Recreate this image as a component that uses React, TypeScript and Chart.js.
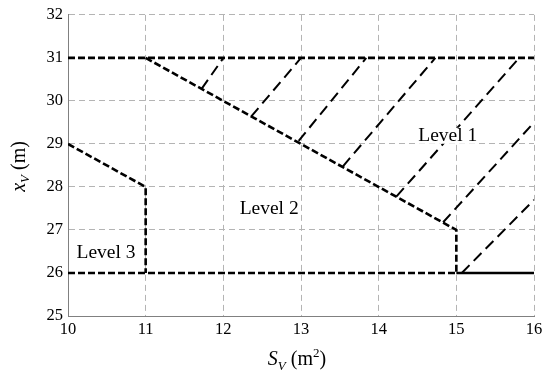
import React, { useEffect, useRef } from "react";
import { Chart, registerables } from "chart.js";

Chart.register(...registerables);

// ---- data (axis units: S_V in m², x_V in m) ----
const xTicks = [10, 11, 12, 13, 14, 15, 16];
const yTicks = [25, 26, 27, 28, 29, 30, 31, 32];

const topBoundary = [[10, 31], [16, 31]];
const level1Boundary = [[11, 31], [15, 27], [15, 26]];
const level2Boundary = [[10, 29], [11, 28], [11, 26]];
const bottomDashed = [[10, 26], [15, 26]];
const bottomSolid = [[15, 26], [16, 26]];

const hatchStarts = [
  [11.72, 30.28], [12.36, 29.64], [12.97, 29.07], [13.54, 28.48],
  [14.23, 27.78], [14.83, 27.18], [15.07, 26.0],
];
const hatchEnds = [
  [12.0, 31], [13.0, 31], [13.84, 31], [14.73, 31],
  [15.81, 31], [16.0, 29.5], [16.0, 27.7],
];

const regionNames = ["Level 1", "Level 2", "Level 3"];
const regionX = [14.89, 12.59, 10.49];
const regionY = [29.19, 27.48, 26.47];

const SERIF = "'Liberation Serif', 'Times New Roman', serif";

Chart.defaults.font.family = SERIF;
Chart.defaults.font.size = 16;
Chart.defaults.color = "#000";

const toPts = (arr: number[][]) => arr.map(([x, y]) => ({ x, y }));

const regionLabels = {
  id: "regionLabels",
  afterDatasetsDraw(chart: any) {
    const { ctx, scales } = chart;
    ctx.save();
    ctx.font = `19.5px ${SERIF}`;
    ctx.textAlign = "center";
    ctx.textBaseline = "middle";
    regionNames.forEach((name, i) => {
      const px = scales.x.getPixelForValue(regionX[i]);
      const py = scales.y.getPixelForValue(regionY[i]);
      const w = ctx.measureText(name).width;
      ctx.fillStyle = "#fff";
      ctx.fillRect(px - w / 2 - 1, py - 8, w + 2, 16);
      ctx.fillStyle = "#000";
      ctx.fillText(name, px, py);
    });
    ctx.restore();
  },
};

type Part = { t: string; font: string; dy: number };

function drawParts(ctx: CanvasRenderingContext2D, parts: Part[], cx: number) {
  let total = 0;
  parts.forEach((p) => {
    ctx.font = p.font;
    total += ctx.measureText(p.t).width;
  });
  let x = cx - total / 2;
  parts.forEach((p) => {
    ctx.font = p.font;
    ctx.fillText(p.t, x, p.dy);
    x += ctx.measureText(p.t).width;
  });
}

const axisTitles = {
  id: "axisTitles",
  afterDraw(chart: any) {
    const { ctx, chartArea } = chart;
    ctx.save();
    ctx.fillStyle = "#000";
    ctx.textAlign = "left";
    ctx.textBaseline = "alphabetic";
    // x-axis title
    ctx.save();
    ctx.translate(0, 365);
    drawParts(
      ctx,
      [
        { t: "S", font: `italic 20px ${SERIF}`, dy: 0 },
        { t: "V", font: `italic 13px ${SERIF}`, dy: 5 },
        { t: " (m", font: `20px ${SERIF}`, dy: 0 },
        { t: "2", font: `13px ${SERIF}`, dy: -8 },
        { t: ")", font: `20px ${SERIF}`, dy: 0 },
      ],
      (chartArea.left + chartArea.right) / 2 - 4
    );
    ctx.restore();
    // y-axis title
    ctx.save();
    ctx.translate(25, (chartArea.top + chartArea.bottom) / 2 + 1);
    ctx.rotate(-Math.PI / 2);
    drawParts(
      ctx,
      [
        { t: "x", font: `italic 20px ${SERIF}`, dy: 0 },
        { t: "V", font: `italic 13px ${SERIF}`, dy: 4 },
        { t: " (m)", font: `20px ${SERIF}`, dy: 0 },
      ],
      0
    );
    ctx.restore();
    ctx.restore();
  },
};

export default function App() {
  const ref = useRef<HTMLCanvasElement>(null);
  useEffect(() => {
    if (!ref.current) return;
    const boundary = (pts: number[][]) => ({
      data: toPts(pts),
      borderColor: "#000",
      borderWidth: 2.6,
      borderDash: [7, 3],
      pointRadius: 0,
      fill: false,
      tension: 0,
    });
    const hatch = hatchStarts.map((s, i) => ({
      data: toPts([s, hatchEnds[i]]),
      borderColor: "#000",
      borderWidth: 2,
      borderDash: [11, 6],
      pointRadius: 0,
      fill: false,
      tension: 0,
    }));
    const tickFont = { family: SERIF, size: 16.5, weight: "normal" as const };
    const chart = new Chart(ref.current, {
      type: "line",
      data: {
        datasets: [
          boundary(topBoundary),
          boundary(level1Boundary),
          boundary(level2Boundary),
          boundary(bottomDashed),
          { ...boundary(bottomSolid), borderDash: [] },
          ...hatch,
        ] as any,
      },
      options: {
        animation: false,
        responsive: false,
        parsing: false as any,
        layout: { padding: { left: 0, right: 16, top: 14, bottom: 0 } },
        plugins: { legend: { display: false }, tooltip: { enabled: false } },
        scales: {
          x: {
            type: "linear",
            min: 10,
            max: 16,
            afterFit: (s: any) => { s.height = 62; },
            afterBuildTicks: (s: any) => { s.ticks = xTicks.map((v) => ({ value: v })); },
            ticks: { color: "#000", font: tickFont, padding: 4, maxRotation: 0 },
            grid: { color: "#b4b4b4", lineWidth: 1, drawTicks: false },
            border: { display: true, color: "#808080", width: 1, dash: [6, 4] },
          },
          y: {
            type: "linear",
            min: 25,
            max: 32,
            afterFit: (s: any) => { s.width = 68; },
            afterBuildTicks: (s: any) => { s.ticks = yTicks.map((v) => ({ value: v })); },
            ticks: { color: "#000", font: tickFont, padding: 5 },
            grid: { color: "#b4b4b4", lineWidth: 1, drawTicks: false },
            border: { display: true, color: "#808080", width: 1, dash: [6, 4] },
          },
        },
      },
      plugins: [regionLabels, axisTitles],
    });
    return () => chart.destroy();
  }, []);
  return (
    <div style={{ position: "absolute", left: 0, top: 0, width: 550, height: 378, background: "#fff" }}>
      <canvas ref={ref} width={550} height={378} style={{ display: "block" }} />
    </div>
  );
}
